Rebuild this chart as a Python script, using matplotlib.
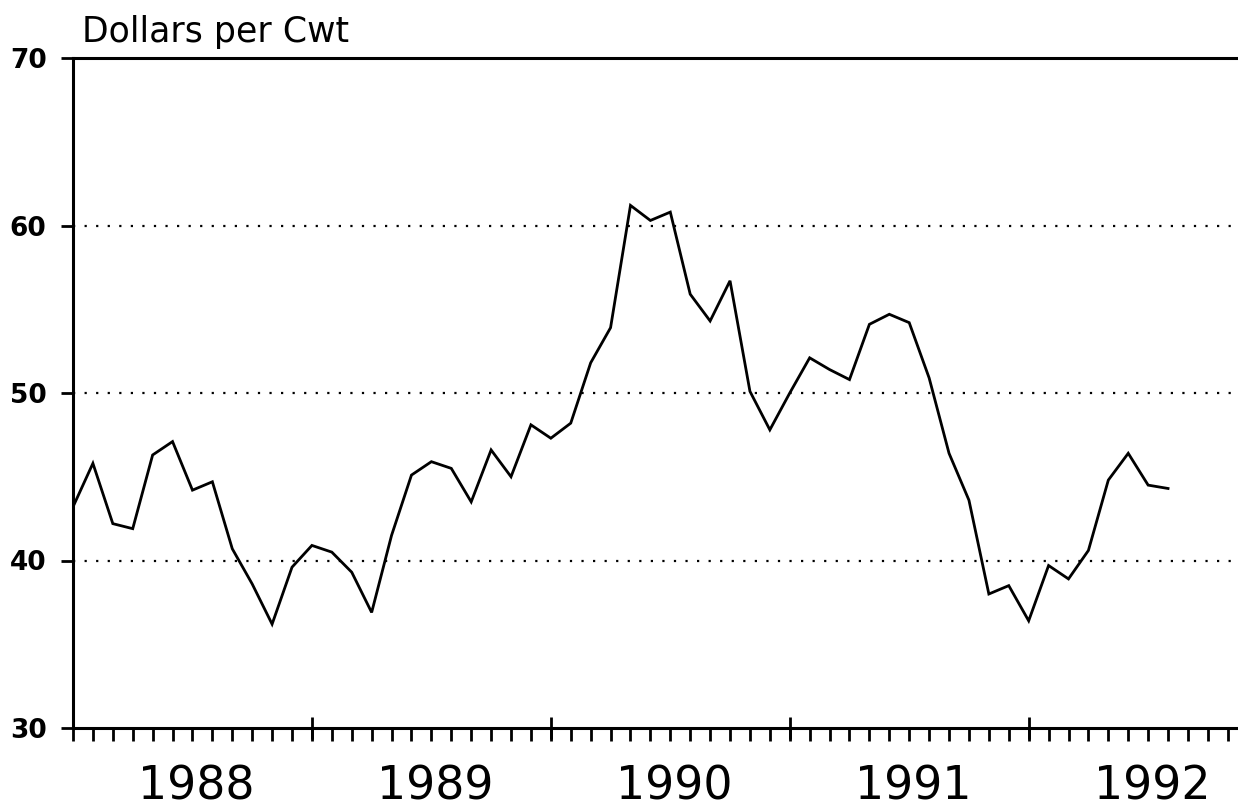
import matplotlib
matplotlib.use("Agg")
import matplotlib.pyplot as plt
import numpy as np

# monthly prices, Jan 1988 - Aug 1992
prices = [43.2, 45.8, 42.2, 41.9, 46.3, 47.1, 44.2, 44.7, 40.7, 38.6, 36.2, 39.6,
          40.9, 40.5, 39.3, 36.9, 41.5, 45.1, 45.9, 45.5, 43.5, 46.6, 45.0, 48.1,
          47.3, 48.2, 51.8, 53.9, 61.2, 60.3, 60.8, 55.9, 54.3, 56.7, 50.1, 47.8,
          50.0, 52.1, 51.4, 50.8, 54.1, 54.7, 54.2, 50.9, 46.4, 43.6, 38.0, 38.5,
          36.4, 39.7, 38.9, 40.6, 44.8, 46.4, 44.5, 44.3]
years = ["1988", "1989", "1990", "1991", "1992"]
y_ticks = [30, 40, 50, 60, 70]
grid_levels = [40, 50, 60]

W, H = 1238, 809
fig = plt.figure(figsize=(W / 100, H / 100), dpi=100)
ax = fig.add_axes([73 / W, (H - 728) / H, (W - 73) / W, (728 - 58) / H])

months = np.arange(len(prices))
ax.plot(months, prices, color="black", linewidth=2.0, solid_joinstyle="miter")

for lvl in grid_levels:
    ax.axhline(lvl, color="black", linestyle=(0, (1, 4.2)), linewidth=1.6, zorder=1)

ax.set_xlim(0, (W - 73) / 19.91)
ax.set_ylim(30, 70)

# spines
for s in ["left", "bottom", "top"]:
    ax.spines[s].set_linewidth(2.2)
ax.spines["right"].set_visible(False)

# y axis
ax.set_yticks(y_ticks)
ax.set_yticklabels([str(v) for v in y_ticks], fontsize=19, fontweight="bold")
ax.tick_params(axis="y", direction="out", length=9, width=2, pad=10)

# x axis: months below, year marks crossing the axis
ax.xaxis.remove_overlapping_locs = False
ax.set_xticks(np.arange(0, 59))
ax.set_xticklabels([])
ax.tick_params(axis="x", which="major", direction="out", length=9, width=2)
ax.set_xticks([12, 24, 36, 48], minor=True)
ax.tick_params(axis="x", which="minor", direction="inout", length=16, width=2)

for i, yr in enumerate(years):
    ax.text(6.2 + 12 * i, -0.088, yr, transform=ax.get_xaxis_transform(),
            ha="center", va="center", fontsize=33)

fig.text(82 / W, 1 - 32 / H, "Dollars per Cwt", ha="left", va="center", fontsize=25)

fig.savefig("out.png", dpi=100)
